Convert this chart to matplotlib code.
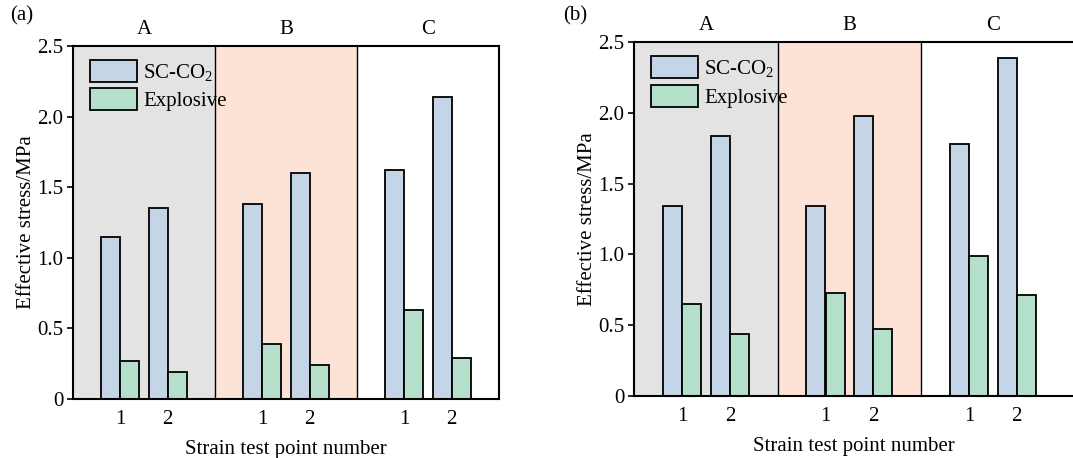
import numpy as np
import matplotlib
matplotlib.use('Agg')
import matplotlib.pyplot as plt

plt.rcParams['font.family'] = ['Liberation Serif', 'DejaVu Serif']
plt.rcParams['mathtext.fontset'] = 'custom'
plt.rcParams['mathtext.rm'] = 'Liberation Serif'

sections = ['A', 'B', 'C']
points = ['1', '2']
series_names = ['SC-CO$_2$', 'Explosive']

# panel (a)
sc_co2_a = [1.15, 1.35, 1.38, 1.60, 1.62, 2.14]
explosive_a = [0.27, 0.19, 0.39, 0.24, 0.63, 0.29]
# panel (b)
sc_co2_b = [1.34, 1.84, 1.34, 1.98, 1.78, 2.39]
explosive_b = [0.65, 0.44, 0.73, 0.47, 0.99, 0.71]

bar_colors = ['#c3d5e6', '#b4e0cb']
section_colors = ['#e2e3e2', '#fde3d5', 'white']

W, H = 1073, 458
FS = 15
fig = plt.figure(figsize=(W / 100, H / 100), dpi=100)

def draw_panel(ax, sc, ex, xmax, width_px, height_px, hide_right=False):
    pos = np.array([1, 2, 4, 5, 7, 8], dtype=float)
    w = 0.4
    for i, c in enumerate(section_colors):
        ax.axvspan(3 * i, 3 * i + 3, color=c, zorder=0, lw=0)
        if i > 0:
            ax.axvline(3 * i, color='black', lw=1.0, zorder=1)
        ax.text(3 * i + 1.5, 2.62, sections[i], ha='center', va='center', fontsize=FS)
    ax.bar(pos - w / 2, sc, width=w, color=bar_colors[0], edgecolor='black',
           linewidth=1.3, label=series_names[0], zorder=2)
    ax.bar(pos + w / 2, ex, width=w, color=bar_colors[1], edgecolor='black',
           linewidth=1.3, label=series_names[1], zorder=2)
    ax.set_xlim(0, xmax)
    ax.set_ylim(0, 2.5)
    ax.set_xticks(pos)
    ax.set_xticklabels(points * 3, fontsize=FS)
    ax.tick_params(axis='x', length=0, pad=8)
    ax.set_yticks([0, 0.5, 1.0, 1.5, 2.0, 2.5])
    ax.set_yticklabels(['0', '0.5', '1.0', '1.5', '2.0', '2.5'], fontsize=FS)
    ax.tick_params(axis='y', direction='out', length=4, width=1.2, pad=3)
    for s in ax.spines.values():
        s.set_linewidth(1.5)
    if hide_right:
        ax.spines['right'].set_visible(False)
    ax.set_xlabel('Strain test point number', fontsize=FS)
    ax.xaxis.set_label_coords(0.5, -41 / height_px)
    ax.set_ylabel('Effective stress/MPa', fontsize=FS)
    ax.yaxis.set_label_coords(-37 / width_px, 0.5)
    ax.legend(loc='upper left', bbox_to_anchor=(17 / width_px, 1 - 14 / height_px),
              frameon=False, fontsize=FS, handlelength=2.25, handleheight=1.25,
              handletextpad=0.3, labelspacing=0.22, borderpad=0, borderaxespad=0)

ax1 = fig.add_axes([73 / W, 1 - 399 / H, 426 / W, 353 / H])
draw_panel(ax1, sc_co2_a, explosive_a, 9, 426, 353)

wb = W - 634.3
ax2 = fig.add_axes([634.3 / W, 1 - 395.7 / H, wb / W, 353.4 / H])
draw_panel(ax2, sc_co2_b, explosive_b, wb / 47.8, wb, 353.4, hide_right=True)

fig.text(10 / W, 1 - 16 / H, '(a)', fontsize=FS, ha='left', va='center')
fig.text(563 / W, 1 - 16 / H, '(b)', fontsize=FS, ha='left', va='center')

fig.savefig('out.png', dpi=100)
